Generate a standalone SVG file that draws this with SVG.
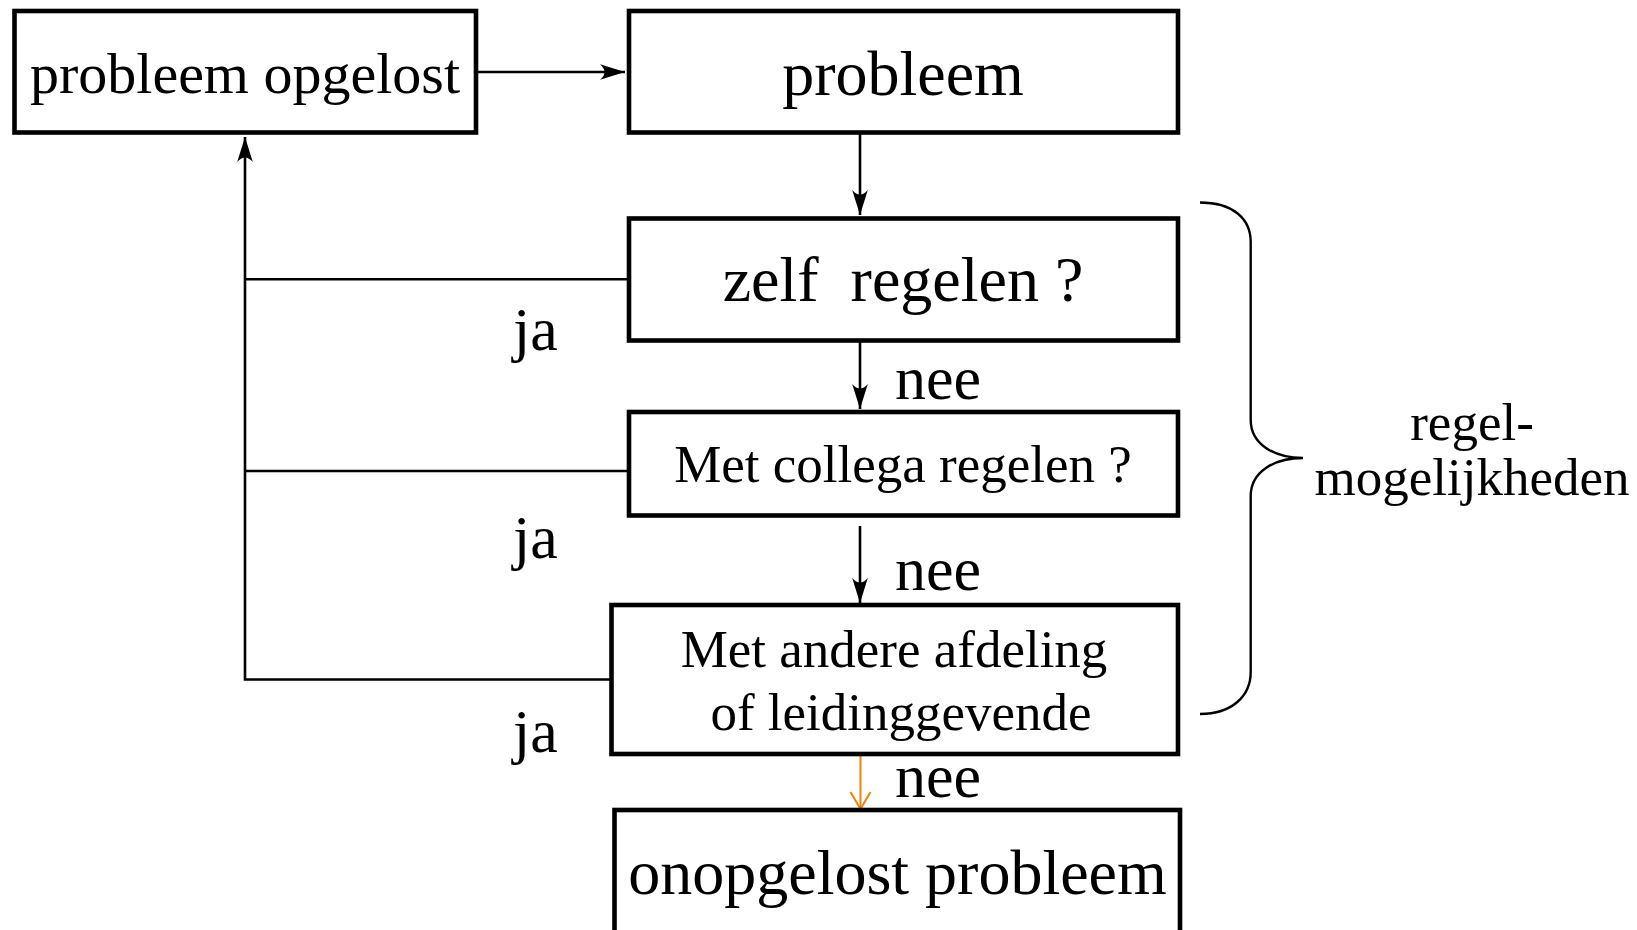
<svg xmlns="http://www.w3.org/2000/svg" width="1637" height="930" viewBox="0 0 1637 930">
<style>
  .box { fill: #ffffff; stroke: #000000; stroke-width: 4.6; }
  .lbl { font-family: "Liberation Serif", "Times New Roman", serif; fill: #000000; }
  .c { text-anchor: middle; }
  .conn { fill: none; stroke: #000000; stroke-width: 2.6; }
  .orange { fill: none; stroke: #f0820f; stroke-width: 2; }
  .brace { fill: none; stroke: #000000; stroke-width: 2.4; }
</style>
<defs>
  <marker id="ah" viewBox="-27 -10 28 20" refX="0" refY="0" markerWidth="28" markerHeight="20" markerUnits="userSpaceOnUse" orient="auto">
    <path d="M0,0 L-25,-7.8 Q-16,0 -25,7.8 Z" fill="#000000"/>
  </marker>
  <marker id="ahOpen" viewBox="-20 -12 22 24" refX="0" refY="0" markerWidth="22" markerHeight="24" markerUnits="userSpaceOnUse" orient="auto">
    <path d="M-17,-10 L0,0 L-17,10" fill="none" stroke="#f0820f" stroke-width="2"/>
  </marker>
</defs>
<rect width="1637" height="930" fill="#ffffff"/>

<g id="connectors">
  <line class="conn" x1="478" y1="72" x2="625" y2="72" marker-end="url(#ah)"/>
  <line class="conn" x1="860" y1="134" x2="860" y2="215" marker-end="url(#ah)"/>
  <line class="conn" x1="860" y1="342" x2="860" y2="409" marker-end="url(#ah)"/>
  <line class="conn" x1="860" y1="526" x2="860" y2="603" marker-end="url(#ah)"/>
  <line class="orange" x1="860.5" y1="756" x2="860.5" y2="809" marker-end="url(#ahOpen)"/>
  <line class="conn" x1="627" y1="279.3" x2="245" y2="279.3"/>
  <line class="conn" x1="627" y1="471" x2="245" y2="471"/>
  <polyline class="conn" points="610,679.5 245,679.5 245,137" marker-end="url(#ah)"/>
  <path class="brace" d="M1200,202.5 C1232,202.5 1250.7,218 1250.7,242 L1250.7,420 C1250.7,444 1274,458 1303,458 C1274,458 1250.7,472 1250.7,496 L1250.7,672 C1250.7,696 1232,714 1200,714"/>
</g>

<g id="labels">
  <text class="lbl" x="513" y="350" font-size="62">ja</text>
  <text class="lbl" x="513" y="558" font-size="62">ja</text>
  <text class="lbl" x="513" y="752" font-size="62">ja</text>
  <text class="lbl" x="895" y="399" font-size="62">nee</text>
  <text class="lbl" x="895" y="590" font-size="62">nee</text>
  <text class="lbl" x="895" y="797" font-size="62">nee</text>
  <text class="lbl c" x="1472" y="440" font-size="53">regel-</text>
  <text class="lbl c" x="1472" y="495" font-size="53">mogelijkheden</text>
</g>

<g id="node-opgelost">
  <rect class="box" x="14.5" y="11" width="461.5" height="121.5"/>
  <text class="lbl c" x="245" y="93" font-size="58">probleem opgelost</text>
</g>
<g id="node-probleem">
  <rect class="box" x="629" y="11" width="549" height="121.5"/>
  <text class="lbl c" x="903" y="95" font-size="64">probleem</text>
</g>
<g id="node-zelf">
  <rect class="box" x="629" y="218.5" width="549" height="122"/>
  <text class="lbl c" x="903" y="301" font-size="64" xml:space="preserve">zelf  regelen ?</text>
</g>
<g id="node-collega">
  <rect class="box" x="629" y="412" width="549" height="103.5"/>
  <text class="lbl c" x="903" y="482" font-size="53">Met collega regelen ?</text>
</g>
<g id="node-afdeling">
  <rect class="box" x="611.5" y="605" width="566.5" height="149"/>
  <text class="lbl c" x="894" y="667" font-size="53">Met andere afdeling</text>
  <text class="lbl c" x="901" y="730" font-size="53">of leidinggevende</text>
</g>
<g id="node-onopgelost">
  <rect class="box" x="614.5" y="810" width="565.5" height="140"/>
  <text class="lbl c" x="897.5" y="894" font-size="64">onopgelost probleem</text>
</g>
</svg>
